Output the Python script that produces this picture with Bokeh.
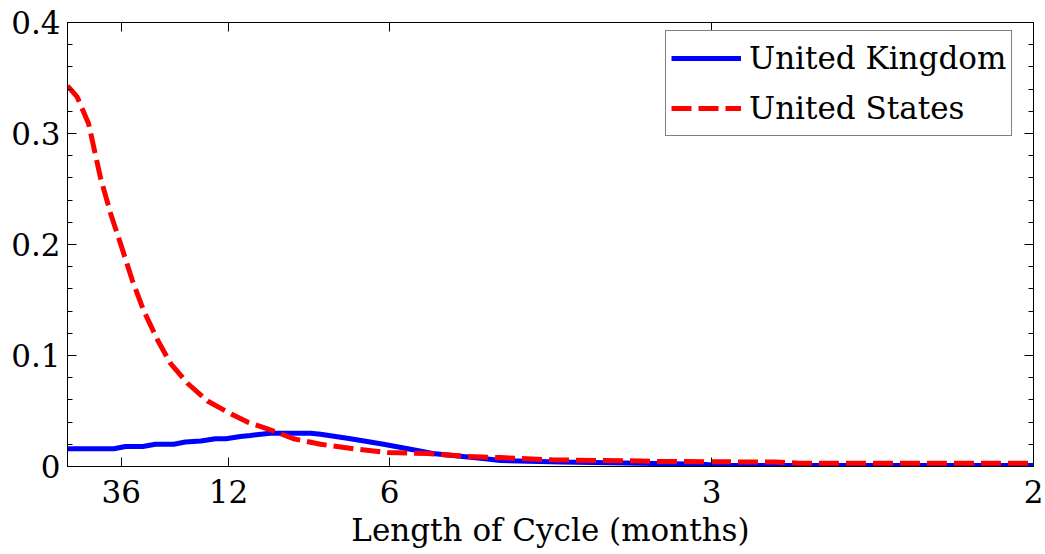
from bokeh.plotting import figure
from bokeh.models import (FixedTicker, LinearAxis, CustomJSTickFormatter, Range1d, Legend, LegendItem)
from bokeh.embed import file_html
from bokeh.resources import INLINE

# Frequency (cycles per month) and spectral density
us_freq = [0.0, 0.005, 0.0109, 0.0171, 0.0223, 0.0274, 0.0335, 0.0393, 0.0466, 0.0533,
           0.0621, 0.0725, 0.0828, 0.0932, 0.1035, 0.117, 0.131, 0.148, 0.1656, 0.1863,
           0.207, 0.2241, 0.251, 0.2966, 0.307, 0.3665, 0.379, 0.5]
us_vals = [0.343, 0.333, 0.309, 0.260, 0.228, 0.201, 0.168, 0.141, 0.114, 0.093,
           0.075, 0.059, 0.049, 0.040, 0.034, 0.025, 0.020, 0.016, 0.0126, 0.0117,
           0.009, 0.008, 0.006, 0.005, 0.0045, 0.004, 0.003, 0.003]

uk_freq = [0.0, 0.024, 0.030, 0.039, 0.0455, 0.055, 0.061, 0.069, 0.0766, 0.082,
           0.0895, 0.0947, 0.105, 0.1258, 0.131, 0.1465, 0.1636, 0.181, 0.189, 0.215,
           0.224, 0.255, 0.2966, 0.328, 0.338, 0.5]
uk_vals = [0.016, 0.016, 0.018, 0.018, 0.020, 0.020, 0.022, 0.023, 0.025, 0.025,
           0.027, 0.028, 0.030, 0.030, 0.029, 0.025, 0.020, 0.0144, 0.0117, 0.0072,
           0.0054, 0.004, 0.003, 0.002, 0.001, 0.001]

cycle_months = [36, 12, 6, 3, 2]
y_ticks = [0.0, 0.1, 0.2, 0.3, 0.4]
y_minor = [0.02, 0.04, 0.06, 0.08, 0.12, 0.14, 0.16, 0.18, 0.22, 0.24, 0.26, 0.28,
           0.32, 0.34, 0.36, 0.38]

FONT = "DejaVu Serif"
FS = "31px"

p = figure(width=1045, height=554, output_backend="svg", toolbar_location=None,
           x_range=Range1d(0, 0.5), y_range=Range1d(0, 0.4),
           min_border_left=67, min_border_right=12, min_border_top=22, min_border_bottom=88)
p.grid.visible = False
p.outline_line_color = "black"
p.outline_line_width = 1
p.background_fill_color = "white"
p.border_fill_color = "white"

x_tick_vals = [1.0 / m for m in cycle_months]
xfmt = CustomJSTickFormatter(code="return String(Math.round(1/tick));")
yfmt = CustomJSTickFormatter(code="return tick == 0 ? '0' : tick.toFixed(1);")
blank = CustomJSTickFormatter(code="return '';")

def style_axis(ax):
    ax.axis_line_color = "black"
    ax.axis_line_width = 1
    ax.major_tick_in = 9
    ax.major_tick_out = 0
    ax.minor_tick_in = 5
    ax.minor_tick_out = 0
    ax.major_tick_line_color = "black"
    ax.minor_tick_line_color = "black"
    ax.major_label_text_font = FONT
    ax.major_label_text_font_size = FS
    ax.major_label_text_color = "black"

xa = p.xaxis[0]
xa.ticker = FixedTicker(ticks=x_tick_vals)
xa.formatter = xfmt
style_axis(xa)
xa.major_label_standoff = 13
xa.axis_label = "Length of Cycle (months)"
xa.axis_label_text_font = FONT
xa.axis_label_text_font_size = FS
xa.axis_label_text_font_style = "normal"
xa.axis_label_text_color = "black"
xa.axis_label_standoff = 6

ya = p.yaxis[0]
ya.ticker = FixedTicker(ticks=y_ticks, minor_ticks=y_minor)
ya.formatter = yfmt
style_axis(ya)
ya.major_label_standoff = 7

top = LinearAxis(ticker=FixedTicker(ticks=x_tick_vals), formatter=blank)
style_axis(top)
top.major_label_standoff = 0
p.add_layout(top, "above")

right = LinearAxis(ticker=FixedTicker(ticks=y_ticks, minor_ticks=y_minor), formatter=blank)
style_axis(right)
right.major_label_standoff = 0
p.add_layout(right, "right")

r_uk = p.line(uk_freq, uk_vals, line_color="#0000ff", line_width=5)
r_us = p.line(us_freq, us_vals, line_color="#ff0000", line_width=5, line_dash="20 7")

legend = Legend(items=[LegendItem(label="United Kingdom", renderers=[r_uk]),
                       LegendItem(label="United States", renderers=[r_us])],
                location=(598, 330))
legend.label_text_font = FONT
legend.label_text_font_size = FS
legend.label_text_color = "black"
legend.glyph_width = 70
legend.glyph_height = 44
legend.label_height = 44
legend.label_standoff = 8
legend.spacing = 6
legend.padding = 5
legend.margin = 0
legend.border_line_color = "black"
legend.border_line_width = 1
legend.background_fill_alpha = 1.0
p.add_layout(legend)

open("out.html", "w").write(file_html(p, INLINE))
